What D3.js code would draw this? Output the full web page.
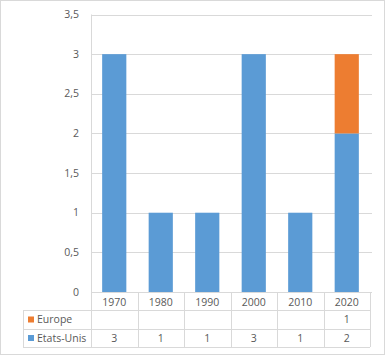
<!DOCTYPE html>
<html><head><meta charset="utf-8">
<script src="https://cdn.jsdelivr.net/npm/d3@7/dist/d3.min.js"></script>
<style>body{margin:0;background:#fff}svg{display:block}text{font-family:"Open Sans","Noto Sans",sans-serif;fill:#595959;font-size:10.5px}</style>
</head><body>
<script>
const categories = ["1970","1980","1990","2000","2010","2020"];
const seriesNames = ["Etats-Unis","Europe"];
const etatsUnis = [3,1,1,3,1,2];
const europe = [null,null,null,null,null,1];
const yTicks = [0,0.5,1,1.5,2,2.5,3,3.5];
const colors = {"Etats-Unis":"#5B9BD5","Europe":"#ED7D31"};

(function(){
const W=386,H=356;
const svg=d3.select("body").append("svg").attr("width",W).attr("height",H);
svg.append("rect").attr("x",0.5).attr("y",0.5).attr("width",384).attr("height",354).attr("fill","#fff").attr("stroke","#d9d9d9");

const pLeft=91,pRight=370,pTop=14.5,pBottom=292;
const x=d3.scaleBand().domain(categories).range([pLeft,pRight]).paddingInner(0.48).paddingOuter(0.24);
const xb=d3.scaleBand().domain(categories).range([pLeft,pRight]);
const y=d3.scaleLinear().domain([0,3.5]).range([pBottom,pTop]);
const fmt=v=>String(v).replace(".",",");

svg.append("g").selectAll("line").data(yTicks).join("line")
 .attr("x1",pLeft).attr("x2",pRight+2).attr("y1",d=>Math.round(y(d))+0.5).attr("y2",d=>Math.round(y(d))+0.5)
 .attr("stroke","#d9d9d9");
svg.append("g").selectAll("text").data(yTicks).join("text")
 .attr("x",79).attr("y",d=>y(d)).attr("dy","0.35em").attr("text-anchor","end").text(fmt);

const rows=categories.map((c,i)=>({cat:c,"Etats-Unis":etatsUnis[i]||0,"Europe":europe[i]||0}));
const stack=d3.stack().keys(seriesNames)(rows);
svg.append("g").selectAll("g").data(stack).join("g").attr("fill",d=>colors[d.key])
 .selectAll("rect").data(d=>d.filter(p=>p[1]>p[0])).join("rect")
 .attr("x",d=>x(d.data.cat)).attr("width",x.bandwidth())
 .attr("y",d=>y(d[1])).attr("height",d=>y(d[0])-y(d[1]));

svg.append("line").attr("x1",pLeft+0.5).attr("x2",pLeft+0.5).attr("y1",pTop).attr("y2",pBottom).attr("stroke","#d9d9d9");

const rowY=[292,310,329,347];
const tg=svg.append("g");
const line=(x1,y1,x2,y2)=>tg.append("line").attr("x1",x1).attr("y1",y1).attr("x2",x2).attr("y2",y2).attr("stroke","#d9d9d9");
line(pLeft,rowY[0]+0.5,pRight,rowY[0]+0.5);
line(23,rowY[1]+0.5,pRight,rowY[1]+0.5);
line(23,rowY[2]+0.5,pRight,rowY[2]+0.5);
line(23,rowY[3]+0.5,pRight,rowY[3]+0.5);
line(23.5,rowY[1],23.5,rowY[3]);
categories.forEach(c=>{const xx=Math.round(xb(c))+0.5;line(xx,rowY[0],xx,rowY[3]);});
line(pRight+0.5,rowY[0],pRight+0.5,rowY[3]);

tg.selectAll("text.cat").data(categories).join("text").attr("class","cat")
 .attr("x",d=>xb(d)+xb.bandwidth()/2).attr("y",(rowY[0]+rowY[1])/2+1).attr("dy","0.35em").attr("text-anchor","middle").text(d=>d);
const tableSeries=[["Europe",europe,1],["Etats-Unis",etatsUnis,2]];
tableSeries.forEach(([name,vals,r])=>{
  const cy=(rowY[r]+rowY[r+1])/2;
  tg.append("rect").attr("x",28).attr("y",cy-3).attr("width",6).attr("height",6).attr("fill",colors[name]);
  tg.append("text").attr("x",37).attr("y",cy).attr("dy","0.35em").text(name);
  categories.forEach((c,i)=>{ if(vals[i]!=null) tg.append("text").attr("x",xb(c)+xb.bandwidth()/2).attr("y",cy).attr("dy","0.35em").attr("text-anchor","middle").text(vals[i]); });
});
})();
</script>
</body></html>
